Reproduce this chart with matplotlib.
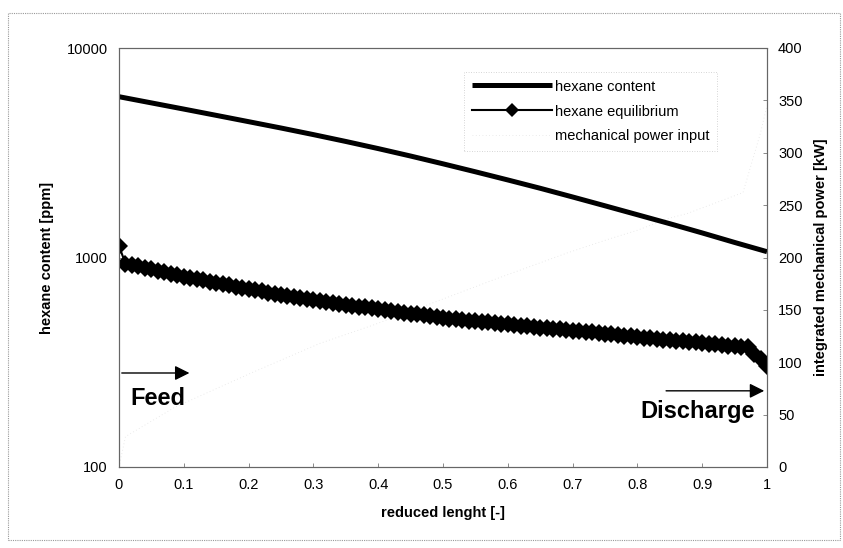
import matplotlib
matplotlib.use("Agg")
import matplotlib.pyplot as plt
from matplotlib.patches import Rectangle
from matplotlib.ticker import FixedLocator, NullLocator

plt.rcParams['font.family'] = ['Liberation Sans', 'DejaVu Sans']

# hexane content [ppm]
content_x = [0.0, 0.05, 0.1, 0.15, 0.2, 0.25, 0.3, 0.35, 0.4, 0.45, 0.5,
             0.55, 0.6, 0.65, 0.7, 0.75, 0.8, 0.85, 0.9, 0.95, 1.0]
content_y = [5855, 5470, 5110, 4770, 4450, 4150, 3860, 3580, 3310, 3050, 2800,
             2565, 2345, 2140, 1945, 1765, 1600, 1450, 1310, 1180, 1066]

# hexane equilibrium [ppm]
equil_x = [0.0] + [round(0.01 * i, 2) for i in range(1, 101)]
equil_y = [1135,
           935, 920, 906, 891, 877, 863, 849, 836, 822, 809,
           798, 788, 777, 767, 757, 747, 737, 727, 717, 708,
           699, 689, 680, 671, 662, 655, 648, 641, 634, 627,
           620, 614, 607, 601, 595, 589, 583, 578, 572, 567,
           561, 556, 550, 545, 540, 535, 529, 524, 519, 514,
           511, 507, 504, 500, 497, 493, 490, 486, 483, 480,
           476, 473, 470, 467, 463, 460, 457, 454, 451, 448,
           445, 442, 439, 436, 433, 430, 427, 424, 421, 418,
           415, 412, 409, 406, 404, 401, 398, 395, 393, 390,
           387, 385, 382, 379, 377, 374, 372, 348, 326, 305]

# integrated mechanical power [kW]
power_x = [0.0, 0.01, 0.086, 0.205, 0.31, 0.39, 0.49, 0.575, 0.668, 0.69,
           0.758, 0.80, 0.846, 0.877, 0.963, 0.99, 1.0]
power_y = [0, 29, 57, 90, 118, 135, 158, 178, 199, 204,
           218, 226, 237, 242, 262, 319, 345]

x_ticks = [0, 0.1, 0.2, 0.3, 0.4, 0.5, 0.6, 0.7, 0.8, 0.9, 1]
x_tick_labels = ['0', '0.1', '0.2', '0.3', '0.4', '0.5', '0.6', '0.7', '0.8', '0.9', '1']
left_ticks = [100, 1000, 10000]
left_tick_labels = ['100', '1000', '10000']
right_ticks = [0, 50, 100, 150, 200, 250, 300, 350, 400]

fig = plt.figure(figsize=(8.43, 5.48), dpi=100)
fig.patches.append(Rectangle((8/843, 1 - 540/548), 832/843, 527/548,
                             transform=fig.transFigure, fill=False,
                             edgecolor='#999999', lw=0.8, linestyle=(0, (1, 1))))

ax = fig.add_axes([119/843, 1 - 467/548, 648/843, 419/548])
ax2 = ax.twinx()

ax.set_yscale('log')
ax.set_xlim(0, 1)
ax.set_ylim(100, 10000)
ax2.set_ylim(0, 400)

ax.set_zorder(ax2.get_zorder() + 1)
ax.patch.set_visible(False)

l3, = ax2.plot(power_x, power_y, color='#e4e4e4', lw=0.6, linestyle=(0, (1, 3)),
               label='mechanical power input')
l1, = ax.plot(content_x, content_y, color='black', lw=3.6, solid_capstyle='butt',
              label='hexane content')
l2, = ax.plot(equil_x, equil_y, color='black', lw=1.5, marker='D', markersize=9,
              markeredgewidth=0, label='hexane equilibrium')

ax.xaxis.set_major_locator(FixedLocator(x_ticks))
ax.set_xticklabels(x_tick_labels)
ax.yaxis.set_major_locator(FixedLocator(left_ticks))
ax.yaxis.set_minor_locator(NullLocator())
ax.set_yticklabels(left_tick_labels)
ax2.yaxis.set_major_locator(FixedLocator(right_ticks))

for a in (ax, ax2):
    a.tick_params(labelsize=10.5, length=3, width=0.6, color='#777777', direction='in', pad=8)
    for s in a.spines.values():
        s.set_color('#666666')
        s.set_linewidth(0.8)
        s.set_linestyle((0, (2, 1)))

ax.set_xlabel('reduced lenght [-]', fontsize=10.5, fontweight='bold', labelpad=10)
ax.set_ylabel('hexane content [ppm]', fontsize=10.5, fontweight='bold', labelpad=9)
ax2.set_ylabel('integrated mechanical power [kW]', fontsize=10.5, fontweight='bold', labelpad=8)

leg = ax.legend(handles=[l1, l2, l3], loc='upper left',
                bbox_to_anchor=((457 - 119) / 648, 1 - (65 - 48) / 419),
                fontsize=10.5, frameon=True, fancybox=False, handlelength=5.5,
                handletextpad=0.2, borderpad=0.5, labelspacing=0.75)
leg.legend_handles[1].set_markersize(7)
leg.get_frame().set_edgecolor('#bbbbbb')
leg.get_frame().set_linewidth(0.6)
leg.get_frame().set_linestyle((0, (1, 2)))

arrow = dict(arrowstyle='-|>', color='black', lw=1.0, mutation_scale=22)
ax.annotate('', xy=(0.113, 281), xytext=(0.0, 281), arrowprops=arrow)
ax.annotate('', xy=(1.0, 231), xytext=(0.84, 231), arrowprops=arrow)
ax.text(0.017, 213, 'Feed', fontsize=17, fontweight='bold', ha='left', va='center')
ax.text(0.982, 185, 'Discharge', fontsize=17, fontweight='bold', ha='right', va='center')

fig.savefig('out.png', dpi=100)
